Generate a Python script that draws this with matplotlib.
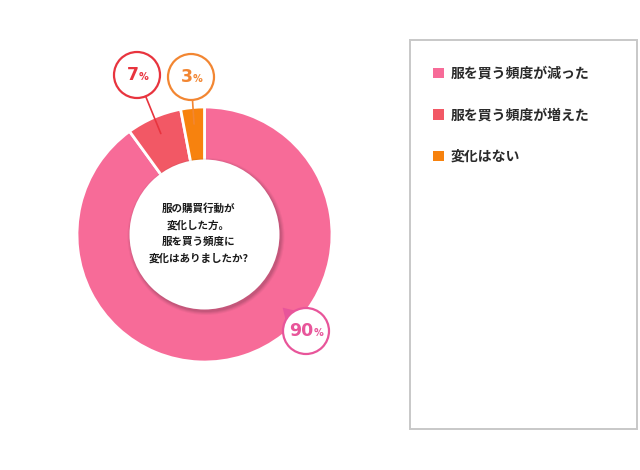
import matplotlib
matplotlib.use('Agg')
import matplotlib.pyplot as plt
from matplotlib.patches import Circle, Rectangle, Polygon
import numpy as np

plt.rcParams['font.family'] = ['Noto Sans CJK JP', 'DejaVu Sans']

labels = ['服を買う頻度が減った', '服を買う頻度が増えた', '変化はない']
values = [90, 7, 3]
colors = ['#F76B98', '#F25865', '#F7820E']
callout_colors = ['#E8559A', '#E8343E', '#F28632']
center_text = '服の購買行動が\n変化した方。\n服を買う頻度に\n変化はありましたか?'

W, H = 640, 470
fig = plt.figure(figsize=(6.4, 4.7), dpi=100)
ax = fig.add_axes([0, 0, 1, 1])

cx, cy = 204.5, 235.5
R, r_in = 127.5, 75

wedges, _ = ax.pie(values, colors=colors, startangle=90, counterclock=False,
                   radius=R, center=(cx, cy), frame=True,
                   wedgeprops=dict(edgecolor='white', linewidth=2))
ax.set_xlim(0, W)
ax.set_ylim(0, H)
ax.set_aspect('equal')
ax.axis('off')

# shadow of the hole
for k, a in enumerate([0.06, 0.08, 0.10, 0.12]):
    ax.add_patch(Circle((cx + 1.5, cy - 2), r_in + 3.5 - k, color='#5a3040', alpha=a, lw=0, zorder=3))
ax.add_patch(Circle((cx, cy), r_in, color='white', lw=0, zorder=4))
ax.text(cx - 6, cy + 1, center_text, ha='center', va='center', fontsize=7.6,
        fontweight='bold', color='#1a1a1a', linespacing=1.75, zorder=5)

# callouts
bubbles = [(306, 139), (137, 395), (191, 393)]
anchor_r = [None, 110, 111]
rb = 23
for i, (w, v) in enumerate(zip(wedges, values)):
    bx, by = bubbles[i]
    col = callout_colors[i]
    if anchor_r[i] is not None:
        mid = np.deg2rad((w.theta1 + w.theta2) / 2)
        tx, ty = cx + anchor_r[i] * np.cos(mid), cy + anchor_r[i] * np.sin(mid)
        ax.plot([bx, tx], [by, ty], color=col, lw=1.2, zorder=6, solid_capstyle='round')
    else:
        a0 = np.deg2rad(135)
        tip = (bx + 33 * np.cos(a0), by + 33 * np.sin(a0))
        b1 = (bx + rb * np.cos(np.deg2rad(118)), by + rb * np.sin(np.deg2rad(118)))
        b2 = (bx + rb * np.cos(np.deg2rad(152)), by + rb * np.sin(np.deg2rad(152)))
        ax.add_patch(Polygon([tip, b1, b2], closed=True, color=col, zorder=6, lw=0))
    ax.add_patch(Circle((bx, by), rb, facecolor='white', edgecolor=col, lw=1.6, zorder=7))
    num = str(v)
    nw = 11 * len(num)
    split = bx + (nw - 8) / 2
    ax.text(split, by - 5.5, num, ha='right', va='baseline', fontsize=12.5, fontweight='bold',
            color=col, family='DejaVu Sans', zorder=8)
    ax.text(split + 0.5, by - 5.5, '%', ha='left', va='baseline', fontsize=7, fontweight='bold',
            color=col, family='DejaVu Sans', zorder=8)

# legend box
ax.add_patch(Rectangle((410, H - 429), 227, 389, facecolor='white', edgecolor='#C8C8C8',
                       lw=1.4, zorder=1))
leg = ax.legend(wedges, labels, loc='upper left', bbox_to_anchor=(426, H - 60),
                bbox_transform=ax.transData, frameon=False, borderpad=0,
                handlelength=0.8, handleheight=0.8, handletextpad=0.5,
                labelspacing=1.97, prop=dict(weight='bold', size=10))
for t in leg.get_texts():
    t.set_color('#2a2a2a')
for h in leg.legend_handles:
    h.set_edgecolor('none')

fig.savefig('out.png', dpi=100)
